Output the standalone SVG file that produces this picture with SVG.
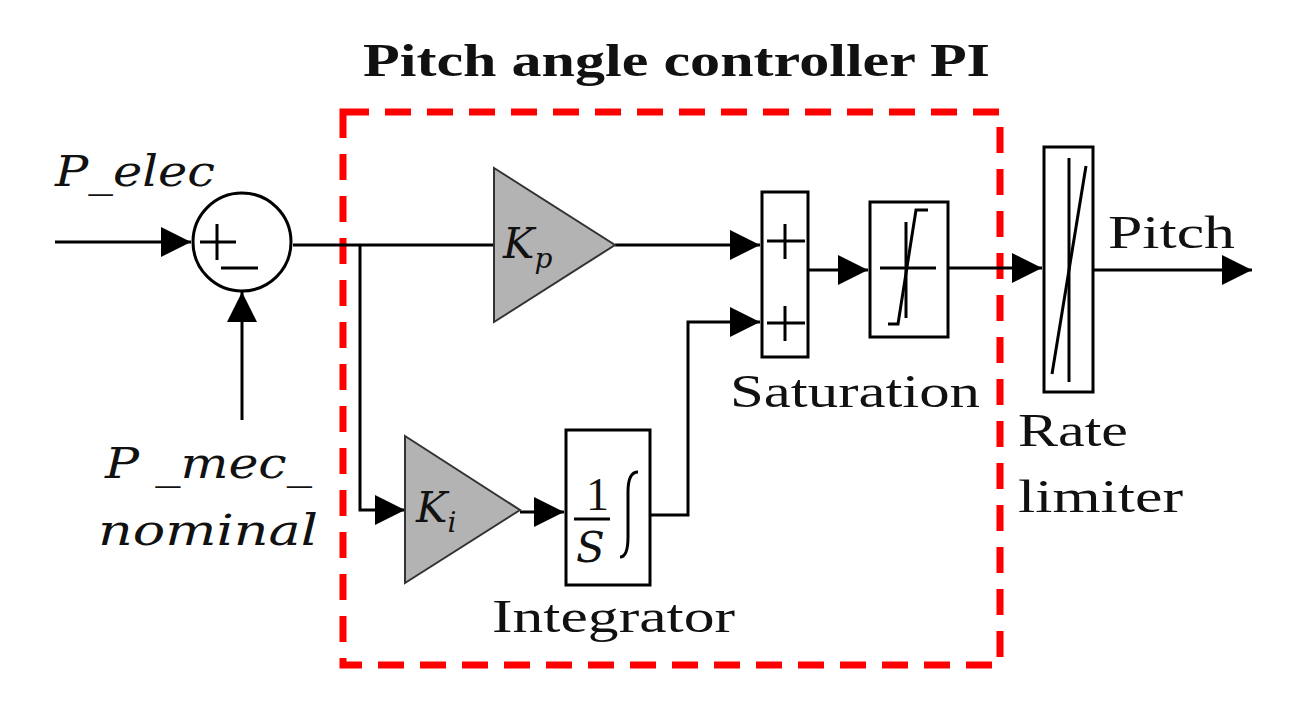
<svg xmlns="http://www.w3.org/2000/svg" width="1300" height="710" viewBox="0 0 1300 710">
<style>
.l{stroke:#000;stroke-width:3;fill:none}
.b{stroke:#000;stroke-width:3;fill:#fff}
.g{stroke:#333;stroke-width:2;fill:#b3b3b3}
.t{font-family:"Liberation Serif",serif;font-size:46px;fill:#111}
.i{font-family:"DejaVu Serif","Liberation Serif",serif;font-style:italic;font-size:42px;fill:#111}
</style>
<defs><marker id="A" viewBox="0 0 10 10" refX="10" refY="5" markerWidth="34" markerHeight="30" orient="auto" markerUnits="userSpaceOnUse"><path d="M0,0L10,5L0,10z" fill="#000"/></marker></defs>
<rect x="343" y="112" width="657" height="553" fill="none" stroke="#f00" stroke-width="7" stroke-dasharray="26 16"/>
<text x="363" y="76" class="t" font-weight="bold" font-size="46" textLength="627" lengthAdjust="spacingAndGlyphs">Pitch angle controller PI</text>
<g id="connectors">
<path class="l" d="M55,242H191" marker-end="url(#A)"/>
<path class="l" d="M242,420V292" marker-end="url(#A)"/>
<path class="l" d="M293,245H494"/>
<path class="l" d="M360,245V510H405" marker-end="url(#A)"/>
<path class="l" d="M615,245H760" marker-end="url(#A)"/>
<path class="l" d="M520,512H564" marker-end="url(#A)"/>
<path class="l" d="M650,515H688V322H760" marker-end="url(#A)"/>
<path class="l" d="M808,270H868" marker-end="url(#A)"/>
<path class="l" d="M948,268H1042" marker-end="url(#A)"/>
<path class="l" d="M1093,270H1252" marker-end="url(#A)"/>
</g>
<g id="sum1"><circle cx="242" cy="242" r="49" class="b"/><path class="l" d="M200,242H236M217,224V260M221,268H258"/></g>
<g id="kp"><path class="g" d="M494,168L494,322L615,245Z"/><text x="503" y="258" class="i">K<tspan font-size="28" dy="10">p</tspan></text></g>
<g id="ki"><path class="g" d="M405,436L405,583L520,510Z"/><text x="416" y="522" class="i">K<tspan font-size="28" dy="10">i</tspan></text></g>
<g id="integrator"><rect x="566" y="430" width="84" height="155" class="b"/><text x="586" y="510" class="t" font-size="40">1</text><path class="l" d="M574,519H610" stroke-width="2"/><text x="576" y="562" class="i">S</text><path class="l" d="M638,472q-10,0 -10,20v45q0,20 -8,20" stroke-width="2"/><text x="492" y="632" class="t" textLength="243" lengthAdjust="spacingAndGlyphs">Integrator</text></g>
<g id="sum2"><rect x="762" y="192" width="46" height="165" class="b"/><path class="l" d="M767,241H805M785,224V259M767,323H805M785,306V341"/></g>
<g id="saturation"><rect x="870" y="202" width="78" height="135" class="b"/><path class="l" d="M880,268H936M906,222V318" stroke-width="2.5"/><path class="l" d="M888,324H898L916,210H928" stroke-width="2"/><text x="730" y="407" class="t" textLength="250" lengthAdjust="spacingAndGlyphs">Saturation</text></g>
<g id="ratelimiter"><rect x="1044" y="147" width="49" height="245" class="b"/><path class="l" d="M1069,158V382" stroke-width="2"/><path class="l" d="M1052,374L1086,166" stroke-width="2"/><text x="1018" y="446" class="t" textLength="110" lengthAdjust="spacingAndGlyphs">Rate</text><text x="1018" y="512" class="t" textLength="165" lengthAdjust="spacingAndGlyphs">limiter</text></g>
<text x="1108" y="248" class="t" textLength="127" lengthAdjust="spacingAndGlyphs">Pitch</text>
<text x="55" y="186" class="i" textLength="160" lengthAdjust="spacingAndGlyphs">P_elec</text>
<text x="105" y="478" class="i" textLength="207" lengthAdjust="spacingAndGlyphs">P _mec_</text>
<text x="98" y="545" class="i" textLength="220" lengthAdjust="spacingAndGlyphs">nominal</text>
</svg>
